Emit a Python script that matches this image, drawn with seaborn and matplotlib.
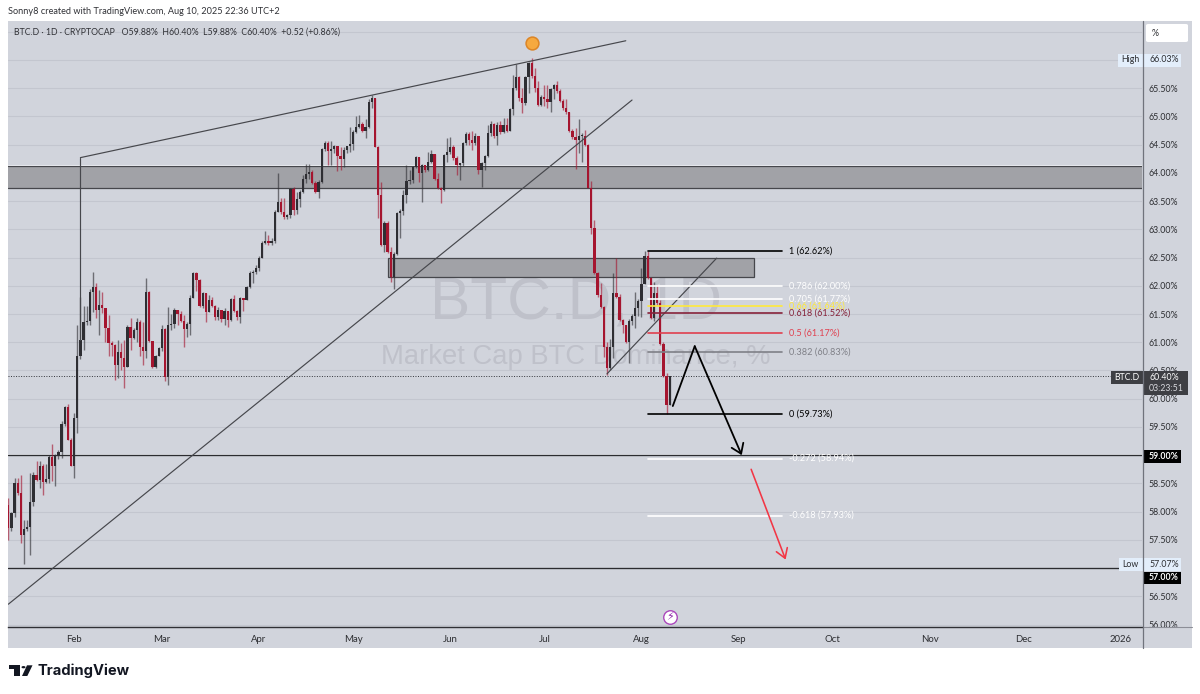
import numpy as np
import pandas as pd
import matplotlib
matplotlib.use("Agg")
import matplotlib.pyplot as plt
import matplotlib.dates as mdates
from matplotlib.patches import Rectangle, Polygon, Circle, FancyBboxPatch
from matplotlib.ticker import FuncFormatter
import seaborn as sns

# BTC.D daily candles (open = previous close)
first_open = 58.12
closes = [
    57.71, 57.98, 58.50, 58.33, 57.58, 57.70, 57.72, 58.17, 58.65, 58.56,
    58.80, 58.52, 58.57, 58.96, 58.80, 58.98, 59.05, 59.55, 59.85, 59.27,
    58.80, 59.66, 60.76, 61.04, 61.36, 61.37, 61.89, 61.98, 61.57, 61.66,
    61.60, 61.25, 60.98, 60.95, 60.60, 60.83, 60.72, 60.56, 61.27, 61.07,
    61.22, 61.36, 60.92, 60.84, 61.89, 61.02, 60.56, 60.75, 60.90, 61.23,
    60.38, 61.30, 61.33, 61.57, 61.50, 61.37, 61.24, 61.32, 61.78, 62.22,
    62.10, 61.64, 61.87, 61.53, 61.75, 61.64, 61.44, 61.57, 61.41, 61.55,
    61.40, 61.76, 61.55, 61.44, 61.78, 61.74, 61.98, 62.22, 62.24, 62.32,
    62.50, 62.76, 62.80, 62.76, 62.80, 63.30, 63.48, 63.30, 63.22, 63.25,
    63.72, 63.35, 63.53, 63.67, 63.90, 63.98, 64.02, 63.82, 63.67, 63.83,
    64.42, 64.53, 64.39, 64.42, 64.48, 64.30, 64.25, 64.40, 64.47, 64.52,
    64.72, 64.82, 64.87, 64.75, 64.82, 65.26, 65.32, 64.45, 63.60, 62.72,
    63.12, 62.60, 62.15, 62.57, 63.29, 63.33, 63.60, 63.85, 63.87, 64.10,
    64.28, 64.00, 64.14, 64.05, 64.20, 64.33, 63.89, 63.73, 63.70, 64.31,
    64.37, 64.46, 64.27, 64.14, 64.17, 64.53, 64.69, 64.58, 64.53, 64.65,
    64.05, 64.18, 64.30, 64.71, 64.86, 64.65, 64.85, 64.72, 64.85, 64.75,
    65.13, 65.50, 65.70, 65.32, 65.23, 65.70, 65.95, 65.72, 65.50, 65.20,
    65.35, 65.30, 65.25, 65.48, 65.55, 65.45, 65.28, 65.15, 65.07, 64.75,
    64.63, 64.58, 64.65, 64.66, 64.50, 63.73, 63.03, 62.22, 61.83, 61.63,
    60.92, 60.55, 60.92, 61.88, 61.80, 61.40, 61.30, 61.00, 61.38, 61.47,
    61.60, 61.73, 62.03, 62.52, 62.14, 61.43, 61.87, 61.70, 60.97, 60.40,
    59.88, 60.40,
]
highs = [
    58.24, 58.00, 58.60, 58.60, 58.65, 57.85, 57.85, 58.68, 58.70, 58.90,
    58.90, 58.85, 58.85, 59.00, 59.20, 59.02, 59.10, 59.60, 59.87, 59.90,
    59.30, 59.75, 61.30, 61.80, 61.65, 61.65, 61.95, 62.25, 62.05, 61.93,
    61.89, 61.55, 61.48, 61.02, 60.97, 61.04, 60.98, 61.04, 61.30, 61.43,
    61.25, 61.43, 61.39, 61.36, 62.14, 61.90, 61.02, 60.77, 60.92, 61.30,
    61.25, 61.63, 61.50, 61.60, 61.58, 61.55, 61.48, 61.36, 61.84, 62.24,
    62.24, 62.12, 61.89, 61.87, 61.84, 61.80, 61.66, 61.62, 61.58, 61.61,
    61.55, 61.78, 61.84, 61.58, 61.80, 61.78, 62.00, 62.26, 62.28, 62.36,
    62.52, 62.80, 62.97, 62.90, 62.85, 63.35, 64.00, 63.55, 63.55, 63.28,
    63.74, 63.75, 63.67, 63.70, 63.96, 64.15, 64.15, 64.05, 63.85, 63.88,
    64.44, 64.57, 64.57, 64.57, 64.50, 64.48, 64.45, 64.45, 64.48, 64.82,
    64.76, 65.00, 65.03, 64.90, 64.95, 65.30, 65.38, 65.32, 64.47, 63.84,
    63.15, 63.14, 62.68, 62.60, 63.30, 63.36, 63.70, 64.14, 64.05, 64.12,
    64.30, 64.28, 64.16, 64.14, 64.37, 64.40, 64.34, 64.00, 63.75, 64.33,
    64.62, 64.63, 64.50, 64.30, 64.18, 64.55, 64.72, 64.73, 64.75, 64.70,
    64.65, 64.20, 64.32, 64.85, 64.92, 64.88, 64.90, 64.92, 64.97, 64.97,
    65.15, 65.74, 65.93, 65.72, 65.50, 65.72, 65.97, 66.03, 65.85, 65.63,
    65.38, 65.55, 65.55, 65.50, 65.58, 65.62, 65.48, 65.30, 65.30, 65.08,
    64.78, 64.80, 64.95, 64.70, 64.76, 64.52, 63.85, 63.17, 62.24, 62.05,
    61.65, 61.00, 61.05, 62.22, 62.50, 61.85, 61.42, 61.30, 61.42, 61.50,
    61.89, 61.76, 62.31, 62.62, 62.62, 62.16, 62.07, 62.01, 61.75, 61.00,
    60.45, 60.40,
]
lows = [
    57.50, 57.65, 57.90, 58.30, 57.45, 57.07, 57.65, 57.23, 58.10, 58.55,
    58.42, 58.30, 58.50, 58.50, 58.55, 58.45, 58.93, 58.95, 59.52, 59.27,
    58.80, 58.60, 59.40, 60.70, 60.86, 61.30, 61.30, 61.53, 61.43, 61.13,
    61.52, 61.00, 60.76, 60.76, 60.33, 60.36, 60.50, 60.19, 60.56, 60.86,
    61.05, 61.00, 60.76, 60.60, 60.72, 61.00, 60.54, 60.55, 60.75, 60.85,
    60.31, 60.24, 61.22, 61.25, 61.30, 61.35, 60.92, 61.09, 61.13, 61.78,
    61.90, 61.62, 61.60, 61.36, 61.53, 61.62, 61.40, 61.39, 61.36, 61.30,
    61.27, 61.38, 61.53, 61.39, 61.34, 61.55, 61.74, 61.96, 62.05, 62.20,
    62.27, 62.50, 62.74, 62.72, 62.72, 62.76, 63.30, 63.28, 63.18, 63.18,
    63.20, 63.25, 63.27, 63.40, 63.65, 63.82, 63.90, 63.80, 63.65, 63.56,
    63.82, 64.38, 64.14, 64.14, 64.36, 64.03, 64.05, 64.10, 64.35, 64.37,
    64.40, 64.70, 64.80, 64.72, 64.62, 64.80, 65.15, 64.45, 63.20, 62.70,
    62.60, 62.58, 62.07, 61.94, 62.55, 62.85, 63.25, 63.46, 63.80, 63.82,
    64.08, 63.84, 63.48, 64.02, 64.03, 64.18, 63.87, 63.72, 63.47, 63.68,
    64.20, 64.33, 64.22, 63.96, 63.87, 64.13, 64.50, 64.50, 64.40, 64.50,
    63.98, 63.75, 64.05, 64.28, 64.65, 64.62, 64.50, 64.68, 64.70, 64.72,
    64.74, 65.03, 65.47, 65.27, 65.06, 65.20, 65.42, 65.68, 65.43, 65.19,
    65.18, 65.18, 65.15, 65.08, 65.30, 65.42, 65.25, 65.12, 65.05, 64.73,
    64.60, 64.07, 64.35, 64.20, 64.48, 63.73, 62.92, 62.20, 61.80, 61.60,
    60.74, 60.42, 60.50, 60.72, 61.78, 61.38, 61.16, 60.98, 60.63, 61.30,
    61.25, 61.46, 61.45, 62.03, 62.12, 61.41, 61.38, 61.66, 60.95, 60.38,
    59.73, 59.88,
]

# fib retracement
fib_ratios = ["1", "0.786", "0.705", "0.66", "0.618", "0.5", "0.382", "0", "-0.272", "-0.618"]
fib_prices = [62.62, 62.00, 61.77, 61.64, 61.52, 61.17, 60.83, 59.73, 58.94, 57.93]
fib_colors = ["#000000", "#ffffff", "#ffffff", "#ffe93b", "#86223a", "#e0404f",
              "#7f8087", "#000000", "#ffffff", "#ffffff"]

# y axis / x axis
y_ticks = [56.0 + 0.5 * k for k in range(22)]
tagged_ticks = [66.5, 66.0, 59.0, 57.0]  # covered by tags in the original
month_names = {2: "Feb", 3: "Mar", 4: "Apr", 5: "May", 6: "Jun", 7: "Jul",
               8: "Aug", 9: "Sep", 10: "Oct", 11: "Nov", 12: "Dec", 1: "2026"}

BG = "#d1d4dc"
UP = "#2e2e33"
DOWN = "#a5152f"
FONT = "Lato"
W, H = 1200, 694


def fx(px):
    return px / W


def fy(py):
    return 1 - py / H


def day(s):
    return mdates.date2num(pd.Timestamp(s))


sns.set_theme(style="white")
plt.rcParams["font.family"] = [FONT, "DejaVu Sans"]

fig = plt.figure(figsize=(W / 100, H / 100), dpi=100, facecolor="white")

# panel behind everything
fig.add_artist(Rectangle((fx(8), fy(648)), (1192 - 8) / W, (648 - 21) / H,
                         transform=fig.transFigure, facecolor=BG, edgecolor="none", zorder=-5))

ax = fig.add_axes([fx(8), fy(626.8), 1134 / W, (626.8 - 21) / H])
ax.set_facecolor(BG)

dates = pd.date_range("2025-01-11", periods=len(closes), freq="D")
df = pd.DataFrame({"date": mdates.date2num(dates), "close": closes, "high": highs, "low": lows})
df["open"] = df["close"].shift(1).fillna(first_open)
df["up"] = df["close"] >= df["open"]
df["colour"] = np.where(df["up"], UP, DOWN)

# watermark
wm_x = day("2025-07-11")
ax.text(wm_x, 61.68, "BTC.D, 1D", fontsize=43.5, color="#bfc1ca", ha="center", va="center",
        family="Liberation Sans", zorder=1)
ax.text(wm_x, 60.74, "Market Cap BTC Dominance, %", fontsize=19.7, color="#bfc1ca", ha="center",
        va="center", family="Liberation Sans", zorder=1)

# zones
left_edge = df["date"].iloc[0] - 0.1
right_edge = df["date"].iloc[0] + 361.7
ax.fill_between([left_edge, right_edge], 63.74, 64.12, color="#a1a2a7", lw=0, zorder=1.5)
for lvl in [63.74, 64.12]:
    ax.plot([left_edge, right_edge], [lvl, lvl], color="#46474c", lw=0.9, zorder=1.6)
ax.plot([left_edge, right_edge], [64.145, 64.145], color="#eceef2", lw=0.6, zorder=1.6)
ax.add_patch(Rectangle((day("2025-05-12"), 62.16), day("2025-09-06") - day("2025-05-12"), 62.49 - 62.16,
                       facecolor="#a1a2a7", edgecolor="#46474c", lw=0.9, zorder=1.5))

# candles
ax.vlines(df["date"], df["low"], df["high"], colors=df["colour"], lw=1.0, alpha=0.62, zorder=3)
ax.bar(df["date"], np.maximum((df["close"] - df["open"]).abs(), 0.025),
       bottom=np.minimum(df["close"], df["open"]), width=0.72, color=df["colour"], lw=0, zorder=3.2)

# price line, key levels
ax.axhline(60.40, color="#33353b", lw=0.7, ls=(0, (1, 1.6)), zorder=2)
ax.axhline(59.00, color="#2b2c30", lw=0.95, zorder=2.5)
ax.axhline(59.025, color="#eceef2", lw=0.6, zorder=2.4)
ax.axhline(57.00, color="#2b2c30", lw=0.95, zorder=2.5)

# trend lines
line_sets = [
    (["2025-02-03", "2025-07-27"], [64.27, 66.34], 0.85),
    (["2025-02-03", "2025-02-03"], [64.27, 61.04], 0.85),
    (["2025-01-11", "2025-07-29"], [56.36, 65.29], 0.85),
    (["2025-07-21", "2025-08-25"], [60.44, 62.49], 0.85),
]
for xs, ys, lw in line_sets:
    sns.lineplot(x=[day(s) for s in xs], y=ys, ax=ax, color="#46474c", lw=lw,
                 estimator=None, sort=False, legend=False, zorder=4)

# fib levels
fib_start = day("2025-08-03")
fib_end = day("2025-09-15")
fib_text = day("2025-09-17")
for ratio, price, col in zip(fib_ratios, fib_prices, fib_colors):
    sns.lineplot(x=[fib_start, fib_end], y=[price, price], ax=ax, color=col, lw=1.2,
                 estimator=None, legend=False, zorder=4.2)
    ax.text(fib_text, price, f"{ratio} ({price:.2f}%)", color=col, fontsize=6.6, ha="left",
            va="center", zorder=4.3)

# drawn path and arrows
sns.lineplot(x=[day("2025-08-11"), day("2025-08-18")], y=[59.87, 60.93], ax=ax, color="black", lw=1.3,
             estimator=None, sort=False, legend=False, zorder=5)
ax.annotate("", xy=(day("2025-09-02"), 59.0), xytext=(day("2025-08-18"), 60.93),
            arrowprops=dict(arrowstyle="->,head_length=0.55,head_width=0.38", color="black", lw=1.3,
                            shrinkA=0, shrinkB=0), zorder=5)
ax.annotate("", xy=(day("2025-09-16"), 57.15), xytext=(day("2025-09-05"), 58.75),
            arrowprops=dict(arrowstyle="->,head_length=0.55,head_width=0.35", color="#f23645", lw=1.15,
                            shrinkA=0, shrinkB=0), zorder=5)

# markers
ax.scatter([day("2025-06-27")], [66.3], s=85, facecolor="#f6a93f", edgecolor="#dc8526", lw=1.1, zorder=6)
ax.scatter([day("2025-08-10")], [56.13], s=95, facecolor="white", edgecolor="#ab47bc", lw=1.0, zorder=6)
ax.text(day("2025-08-10"), 56.125, "\u26a1", color="#8e24aa", fontsize=8, ha="center", va="center",
        family="DejaVu Sans", zorder=6.1)

# axes
ax.set_xlim(left_edge, right_edge)
ax.set_ylim(55.96, 66.69)
ax.yaxis.tick_right()
ax.set_yticks(y_ticks)
ax.yaxis.set_major_formatter(FuncFormatter(lambda v, p: "" if round(v, 2) in tagged_ticks else f"{v:.2f}%"))
ax.xaxis.set_major_locator(mdates.MonthLocator())
ax.xaxis.set_major_formatter(FuncFormatter(lambda v, p: month_names[mdates.num2date(v).month]))
ax.tick_params(axis="y", length=0, pad=5, labelsize=6.35, labelcolor="#2c2d31")
ax.tick_params(axis="x", length=0, pad=6, labelsize=6.9, labelcolor="#2c2d31")
ax.grid(axis="y", color="#c3c6cf", lw=0.75, zorder=0)
ax.grid(axis="x", visible=False)
ax.set_axisbelow(True)
for side in ["top", "left"]:
    ax.spines[side].set_visible(False)
ax.spines["bottom"].set_color("#2f3035")
ax.spines["bottom"].set_linewidth(1.0)
ax.spines["right"].set_visible(False)


def fig_box(x0, y0, x1, y1, colour, z=10):
    fig.add_artist(Rectangle((fx(x0), fy(y1)), (x1 - x0) / W, (y1 - y0) / H, transform=fig.transFigure,
                             facecolor=colour, edgecolor="none", zorder=z))


def fig_label(px, py, s, colour="#2c2d31", size=6.35, z=11, **kw):
    fig.text(fx(px), fy(py), s, color=colour, fontsize=size, va="center", zorder=z, **kw)


# bottom of price scale, vertical rule
fig_box(1142.5, 627, 1192, 648, BG)
fig.add_artist(plt.Line2D([fx(1142.5), fx(1192)], [fy(627), fy(627)], color="#8c8e97", lw=0.8, zorder=10.5))
fig.add_artist(plt.Line2D([fx(1142.5), fx(1142.5)], [fy(21), fy(648)], color="#70737c", lw=0.9, zorder=10.5))

# header and legend
fig_label(8, 11.5, "Sonny8 created with TradingView.com, Aug 10, 2025 22:36 UTC+2", size=6.55, colour="#303136")
fig_label(14, 32, "BTC.D \u00b7 1D \u00b7 CRYPTOCAP   O59.88%  H60.40%  L59.88%  C60.40%  +0.52 (+0.86%)",
          size=6.3, colour="#303136")

# % button
fig.add_artist(FancyBboxPatch((fx(1146), fy(42)), 42 / W, 18 / H, transform=fig.transFigure,
                              boxstyle="round,pad=0,rounding_size=0.002", facecolor="white",
                              edgecolor="none", zorder=10))
fig_label(1152, 33.5, "%")

# high / low tags
fig_box(1117.5, 54, 1181, 66.5, "#e3eefb")
fig_label(1121, 60, "High")
fig_label(1149, 60, "66.03%")
fig_box(1119, 558, 1181, 571, "#e3eefb")
fig_label(1122.5, 564.5, "Low")
fig_label(1149, 564.5, "57.07%")

# black level tags
fig_box(1143, 450, 1181, 463, "black")
fig_label(1149, 456.5, "59.00%", colour="white", fontweight="bold")
fig_box(1143, 571.5, 1181, 584, "black")
fig_label(1149, 578, "57.00%", colour="white", fontweight="bold")

# last price tag
fig_box(1110.5, 371, 1142.5, 384, "#3e3f44")
fig_label(1114, 377.5, "BTC.D", colour="white")
fig_box(1142.5, 371, 1188, 395, "#3e3f44")
fig_label(1149, 377.5, "60.40%", colour="white")
fig_label(1149, 388.5, "03:23:51", colour="#d8d9de")

# TradingView logo
logo_shapes = [
    [(9, 665.3), (20, 665.3), (20, 676), (14, 676), (14, 669), (9, 669)],
    [(27, 665.3), (32.5, 665.3), (27.3, 676), (22, 676)],
]
for pts in logo_shapes:
    fig.add_artist(Polygon([(fx(a), fy(b)) for a, b in pts], closed=True, transform=fig.transFigure,
                           facecolor="#131722", edgecolor="none", zorder=10))
fig.add_artist(Circle((fx(23.5), fy(667.2)), 2 / W, transform=fig.transFigure, facecolor="#131722",
                      edgecolor="none", zorder=10))
fig.text(fx(37.5), fy(671), "TradingView", color="#131722", fontsize=10.6, fontweight="bold",
         family="Inter", va="center", zorder=10)

plt.savefig("out.png", dpi=100)
